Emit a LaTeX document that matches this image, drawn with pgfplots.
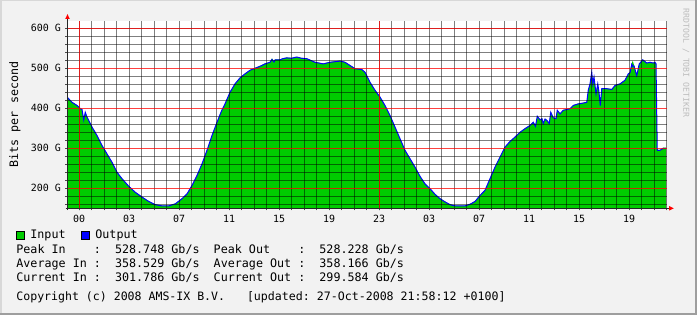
\documentclass[border=0pt]{standalone}
\usepackage{pgfplots}
\pgfplotsset{compat=1.18}
\usepackage{pgfplotstable}
\usepackage{fontspec}
\setmainfont{DejaVu Sans Mono}
\setmonofont{DejaVu Sans Mono}
\definecolor{bg}{HTML}{F2F2F2}
\definecolor{shadea}{HTML}{D8D8D8}
\definecolor{shadeb}{HTML}{9E9E9E}
\definecolor{ingreen}{HTML}{00CC00}
\definecolor{outblue}{HTML}{0000FF}
\definecolor{wmark}{HTML}{BDBDBD}

\pgfplotstableread{
h G
-0.96 429
-0.56 416
-0.16 408
0.00 404
0.10 400
0.24 398
0.38 371
0.50 391
0.64 379
1.04 354
1.44 333
1.84 308
2.24 287
2.64 266
3.04 241
3.44 225
3.98 206
4.50 191
5.04 179
5.58 168
6.10 160
6.64 157
7.18 157
7.70 162
8.24 175
8.64 187
9.04 208
9.44 233
9.84 262
10.24 296
10.64 333
11.04 366
11.28 385
11.44 397
11.68 412
12.08 441
12.48 462
12.88 477
13.28 487
13.68 496
14.08 501
14.48 506
14.88 512
15.28 516
15.44 525
15.60 517
15.68 522
16.08 522
16.30 525
16.62 527
17.00 526
17.42 528.7
17.80 526
18.22 525
18.88 516
19.54 512
20.08 516
20.88 519
21.28 516
21.68 508
22.08 500
22.62 498
22.88 491
23.28 466
23.68 446
24.08 429
24.48 408
24.88 383
25.28 354
25.68 325
26.08 296
26.48 275
26.88 254
27.28 231
27.68 212
28.08 200
28.48 186
28.88 175
29.28 167
29.68 160
30.08 157
30.88 157
31.28 161
31.68 168
32.08 183
32.48 196
32.88 225
33.28 254
33.68 279
34.08 304
34.48 318
34.88 329
35.28 341
35.68 350
36.08 358
36.34 366
36.52 356
36.66 381
36.88 372
37.04 375
37.14 363
37.28 374
37.42 371
37.62 363
37.74 391
37.94 377
38.16 375
38.26 396
38.48 387
38.74 396
39.02 398
39.28 400
39.54 408
39.94 412
40.34 414
40.62 416
40.74 446
40.88 462
41.02 491
41.10 462
41.20 479
41.36 437
41.50 462
41.60 441
41.70 408
41.82 450
42.22 450
42.62 448
42.88 458
43.28 462
43.68 471
43.94 487
44.08 490
44.22 512
44.30 519
44.40 508
44.62 483
44.82 512
45.10 522
45.42 514
45.68 516
45.94 514
46.08 516
46.16 512
46.26 296
46.48 296
46.74 302
46.96 301.8
}\inputdata

\pgfplotstableread{
h G
-0.96 428
-0.56 415
-0.16 407
0.00 403
0.10 399
0.24 397
0.38 371
0.50 390
0.64 378
1.04 353
1.44 332
1.84 307
2.24 286
2.64 265
3.04 240
3.44 224
3.98 205
4.50 190
5.04 178
5.58 167
6.10 159
6.64 156
7.18 156
7.70 161
8.24 174
8.64 186
9.04 207
9.44 232
9.84 261
10.24 295
10.64 332
11.04 365
11.28 384
11.44 396
11.68 411
12.08 440
12.48 461
12.88 476
13.28 486
13.68 495
14.08 500
14.48 505
14.88 511
15.28 515
15.44 522
15.60 516
15.68 521
16.08 521
16.30 524
16.62 526
17.00 525
17.42 528.2
17.80 525
18.22 524
18.88 515
19.54 511
20.08 515
20.88 518
21.28 515
21.68 507
22.08 499
22.62 497
22.88 490
23.28 465
23.68 445
24.08 428
24.48 407
24.88 382
25.28 353
25.68 324
26.08 295
26.48 274
26.88 253
27.28 230
27.68 211
28.08 199
28.48 185
28.88 174
29.28 166
29.68 159
30.08 156
30.88 156
31.28 160
31.68 167
32.08 182
32.48 195
32.88 224
33.28 253
33.68 278
34.08 303
34.48 317
34.88 328
35.28 340
35.68 349
36.08 357
36.34 365
36.52 355
36.66 380
36.88 371
37.04 374
37.14 362
37.28 373
37.42 370
37.62 362
37.74 390
37.94 376
38.16 374
38.26 395
38.48 386
38.74 395
39.02 397
39.28 399
39.54 407
39.94 411
40.34 413
40.62 415
40.74 445
40.88 461
41.02 490
41.10 461
41.20 478
41.36 436
41.50 461
41.60 440
41.70 407
41.82 449
42.22 449
42.62 447
42.88 457
43.28 461
43.68 470
43.94 486
44.08 489
44.22 510
44.30 505
44.40 506
44.62 482
44.82 511
45.10 521
45.42 513
45.68 515
45.94 513
46.08 515
46.16 511
46.26 295
46.48 295
46.74 300
46.96 299.6
}\outputdata

\begin{document}
\begin{tikzpicture}[x=1bp,y=1bp]
\fill[bg] (0,0) rectangle (697,315);
\fill[shadea] (0,0) rectangle (1.5,315);
\fill[shadea] (0,313.5) rectangle (697,315);
\fill[shadeb] (695,0) rectangle (697,315);
\fill[shadeb] (0,0) rectangle (697,2);

\begin{axis}[
  at={(67bp,106.7bp)}, anchor=south west,
  scale only axis, width=600bp, height=186.8bp,
  xmin=-0.96, xmax=47.04, ymin=150, ymax=617,
  axis background/.style={fill=white},
  axis on top,
  axis x line*=bottom, axis y line*=left,
  axis line style={-, draw=none},
  xtick={0,4,...,44},
  xticklabels={00,03,07,11,15,19,23,03,07,11,15,19},
  minor xtick={0,1,...,47},
  xmajorgrids=false, xminorgrids=true,
  ytick={200,300,400,500,600},
  yticklabels={200 G,300 G,400 G,500 G,600 G},
  minor ytick={160,180,220,240,260,280,320,340,360,380,420,440,460,480,520,540,560,580,600},
  ymajorgrids=true, yminorgrids=true,
  extra x ticks={0,24}, extra x tick labels={},
  extra x tick style={xmajorgrids=true},
  tick align=outside,
  major tick length=2bp, minor tick length=2bp,
  tick style={black!70, line width=0.8bp},
  minor grid style={black, opacity=0.5, line width=0.9bp},
  major grid style={red, opacity=0.75, line width=0.9bp},
  tick label style={font=\fontsize{10}{12}\selectfont},
  xticklabel style={yshift=-1bp},
  yticklabel style={xshift=-0.5bp},
]
\addplot[fill=ingreen, draw=none] table[x=h, y=G] {\inputdata} \closedcycle;
\addplot[outblue, line width=1bp] table[x=h, y=G] {\outputdata};
\end{axis}

\draw[black!85, line width=1bp] (67.5,105) -- (67.5,296);
\fill[red] (65.2,296) -- (69.8,296) -- (67.5,300.8) -- cycle;
\draw[black!85, line width=1bp] (65.5,106.7) -- (669,106.7);
\fill[red] (669,104.4) -- (669,109) -- (673.8,106.7) -- cycle;

\node[rotate=90, inner sep=0pt, font=\fontsize{11.7}{14}\selectfont] at (15,200.5) {Bits per second};
\node[rotate=-90, inner sep=0pt, text=wmark, font=\fontsize{8.2}{10}\selectfont] at (686,252) {RRDTOOL / TOBI OETIKER};

\begin{scope}[every node/.style={anchor=base west, inner sep=0pt, font=\fontsize{11.75}{14}\selectfont}]
\filldraw[fill=ingreen, draw=black, line width=0.7bp] (16.4,75.9) rectangle (24,84);
\node at (30.2,76.3) {Input};
\filldraw[fill=outblue, draw=black, line width=0.7bp] (81.4,75.9) rectangle (89,84);
\node at (95.2,76.3) {Output};
\node at (16.2,61.7) {Peak~In~~~~:~~528.748~Gb/s~~Peak~Out~~~~:~~528.228~Gb/s};
\node at (16.2,47.7) {Average~In~:~~358.529~Gb/s~~Average~Out~:~~358.166~Gb/s};
\node at (16.2,33.7) {Current~In~:~~301.786~Gb/s~~Current~Out~:~~299.584~Gb/s};
\node[font=\fontsize{11.6}{14}\selectfont] at (16.2,14.3) {Copyright~(c)~2008~AMS-IX~B.V.};
\node[font=\fontsize{11.65}{14}\selectfont] at (246.8,14.3) {[updated:~27-Oct-2008~21:58:12~+0100]};
\end{scope}
\end{tikzpicture}
\end{document}
